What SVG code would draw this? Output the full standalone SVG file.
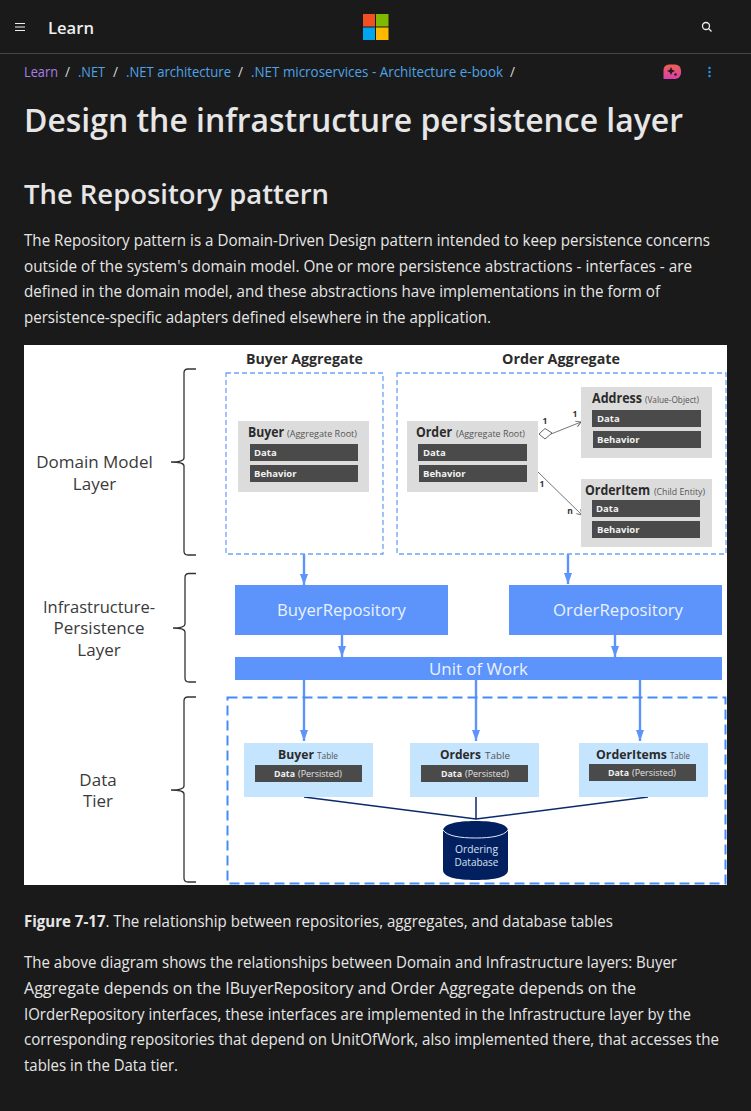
<svg xmlns="http://www.w3.org/2000/svg" width="751" height="1111" viewBox="0 0 751 1111">
<style>
text{font-family:"Open Sans","Noto Sans","Liberation Sans",sans-serif}
.body{font-size:15.6px;fill:#e6e6e6}
.crumb{font-size:13.6px;fill:#4da3e8}
.sl{font-size:13.6px;fill:#d6d6d6}
.card{fill:#dcdcdc}
.bar{fill:#4a4a4a}
.bt{font-size:9.5px;font-weight:700;fill:#f2f2f2}
.name{font-weight:700;fill:#2b2b2b;font-size:14px}
.tname{font-weight:700;fill:#2b2b2b;font-size:12.5px}
.sub{font-size:9.5px;fill:#555}
.tsub{font-size:9.5px;fill:#555}
.pers{font-size:9.5px;fill:#e4e4e4}
.tbl{fill:#c5e4fd}
.layer{font-size:17px;fill:#3a3a3a;text-anchor:middle}
.repo{fill:#5c94fc}
.rt{fill:#eaf2ff;font-size:17px;text-anchor:middle}
.dash{fill:none;stroke:#6ea1fb;stroke-width:1.3;stroke-dasharray:5 3}
.dash2{fill:none;stroke:#448bfa;stroke-width:2;stroke-dasharray:10 5}
.brace{fill:none;stroke:#333;stroke-width:1.3}
.flow{stroke:#5c94fc;stroke-width:2.4;fill:none;marker-end:url(#a)}
.thin{stroke:#666;stroke-width:.9;fill:none;marker-end:url(#o)}
.db{stroke:#0b2a6b;stroke-width:1.5;fill:none}
.card-num{font-size:8.5px;font-weight:700;fill:#333}
</style>
<defs>
<marker id="a" markerUnits="userSpaceOnUse" markerWidth="12" markerHeight="12" refX="11" refY="6" orient="auto"><path d="M0 2L11 6L0 10Z" fill="#5c94fc"/></marker>
<marker id="o" markerUnits="userSpaceOnUse" markerWidth="7" markerHeight="8" refX="6" refY="4" orient="auto"><path d="M1 1L6 4L1 7" fill="none" stroke="#666" stroke-width=".9"/></marker>
<linearGradient id="ic" x1="0" y1="0" x2="0" y2="1"><stop offset="0" stop-color="#f0604f"/><stop offset="1" stop-color="#d83fb0"/></linearGradient>
</defs>
<rect width="751" height="1111" fill="#1a1a1a"/>
<g id="page-header">
<path d="M15 23.5H25M15 27H25M15 30.5H25" stroke="#eee" stroke-width="1.2"/>
<text x="48" y="33.500" font-size="16.500" font-weight="600" fill="#eee" textLength="46" lengthAdjust="spacingAndGlyphs">Learn</text>
<rect x="363" y="14" width="12" height="12.500" fill="#f25022"/><rect x="376" y="14" width="12.500" height="12.500" fill="#7fba00"/><rect x="363" y="27.500" width="12" height="12.500" fill="#00a4ef"/><rect x="376" y="27.500" width="12.500" height="12.500" fill="#ffb900"/>
<circle cx="706" cy="26" r="3.500" fill="none" stroke="#eee" stroke-width="1.300"/><path d="M708.500 28.500L711.500 31.500" stroke="#eee" stroke-width="1.300"/>
<rect y="53" width="751" height="1" fill="#444"/>
</g>
<g id="breadcrumb">
<text x="24" y="77" class="crumb" style="fill:#a77ee8" textLength="34" lengthAdjust="spacingAndGlyphs">Learn</text>
<text x="65" y="77" class="sl">/</text>
<text x="78" y="77" class="crumb" textLength="27" lengthAdjust="spacingAndGlyphs">.NET</text>
<text x="113" y="77" class="sl">/</text>
<text x="126" y="77" class="crumb" textLength="105" lengthAdjust="spacingAndGlyphs">.NET architecture</text>
<text x="238" y="77" class="sl">/</text>
<text x="251" y="77" class="crumb" textLength="252" lengthAdjust="spacingAndGlyphs">.NET microservices - Architecture e-book</text>
<text x="510" y="77" class="sl">/</text>
<path d="M669 64.500H675A6 6 0 0 1 681 70.500V73A6 6 0 0 1 675 79H663.500V70A5.500 5.500 0 0 1 669 64.500Z" fill="url(#ic)"/><path d="M671 67L672.300 69.700L675 71L672.300 72.300L671 75L669.700 72.300L667 71L669.700 69.700Z" fill="#2a1a22"/><circle cx="675.500" cy="74.500" r="1.300" fill="#2a1a22"/>
<circle cx="709.500" cy="68" r="1.200" fill="#2899f5"/><circle cx="709.500" cy="72" r="1.200" fill="#2899f5"/><circle cx="709.500" cy="76" r="1.200" fill="#2899f5"/>
</g>
<text id="title" x="24" y="132" font-size="32.500" font-weight="600" fill="#e6e6e6" textLength="659" lengthAdjust="spacingAndGlyphs">Design the infrastructure persistence layer</text>
<text id="h2" x="24" y="204" font-size="27.500" font-weight="600" fill="#e6e6e6" textLength="305" lengthAdjust="spacingAndGlyphs">The Repository pattern</text>
<g id="intro">
<text class="body" x="24" y="246" textLength="686" lengthAdjust="spacingAndGlyphs">The Repository pattern is a Domain-Driven Design pattern intended to keep persistence concerns</text>
<text class="body" x="24" y="272" textLength="668" lengthAdjust="spacingAndGlyphs">outside of the system's domain model. One or more persistence abstractions - interfaces - are</text>
<text class="body" x="24" y="297" textLength="636" lengthAdjust="spacingAndGlyphs">defined in the domain model, and these abstractions have implementations in the form of</text>
<text class="body" x="24" y="323" textLength="467" lengthAdjust="spacingAndGlyphs">persistence-specific adapters defined elsewhere in the application.</text>
</g>
<rect id="figure-bg" x="24" y="345" width="703" height="540" fill="#fff"/>
<g id="layer-labels">
<text class="layer" x="94.500" y="468">Domain Model</text><text class="layer" x="94.500" y="490">Layer</text>
<text class="layer" x="99" y="613" textLength="112" lengthAdjust="spacingAndGlyphs">Infrastructure-</text><text class="layer" x="99" y="634">Persistence</text><text class="layer" x="99" y="656">Layer</text>
<text class="layer" x="98" y="786">Data</text><text class="layer" x="98" y="807">Tier</text>
</g>
<g id="braces">
<path class="brace" d="M196 369H188Q184 369 184 373V458Q184 462 171 462Q184 462 184 466V551Q184 555 188 555H196"/>
<path class="brace" d="M196 573.500H189Q185 573.500 185 577.500V624Q185 628 173 628Q185 628 185 632V678Q185 682 189 682H196"/>
<path class="brace" d="M196 697H188Q184 697 184 701V786Q184 790 171 790Q184 790 184 794V878Q184 882 188 882H196"/>
</g>
<g id="connectors">
<path class="flow" d="M304 554V585"/><path class="flow" d="M568 554V584"/>
<path class="flow" d="M342 635V657"/><path class="flow" d="M615 635V657"/>
<path class="flow" d="M304 680V741"/><path class="flow" d="M476 680V741"/><path class="flow" d="M640 680V741"/>
<path class="thin" d="M551 434L581 422"/><path class="thin" d="M538 472L582 515"/>
<path d="M539 434L545 428.500L552 433L545 439Z" fill="#fff" stroke="#555" stroke-width=".9"/>
<path class="db" d="M304 797L476 819L648 797M476 797V819"/>
</g>
<g id="aggregate-labels">
<text x="246" y="364" font-size="14" font-weight="700" fill="#2b2b2b" textLength="117" lengthAdjust="spacingAndGlyphs">Buyer Aggregate</text>
<text x="502" y="364" font-size="14" font-weight="700" fill="#2b2b2b" textLength="118" lengthAdjust="spacingAndGlyphs">Order Aggregate</text>
<text class="card-num" x="545" y="424" text-anchor="middle">1</text>
<text class="card-num" x="575" y="417" text-anchor="middle">1</text>
<text class="card-num" x="542" y="487" text-anchor="middle">1</text>
<text class="card-num" x="570" y="514" text-anchor="middle">n</text>
</g>
<g id="buyer-aggregate"><rect class="dash" x="226" y="373" width="157" height="181"/></g>
<g id="order-aggregate"><rect class="dash" x="397" y="373" width="329" height="181"/></g>
<g id="buyer">
<rect class="card" x="238" y="421" width="131" height="71"/>
<text x="248" y="437" class="name" textLength="36" lengthAdjust="spacingAndGlyphs">Buyer</text><text x="287" y="437" class="sub" textLength="70" lengthAdjust="spacingAndGlyphs">(Aggregate Root)</text>
<rect class="bar" x="250" y="444" width="108" height="17"/><text class="bt" x="254" y="456">Data</text>
<rect class="bar" x="250" y="465" width="108" height="17"/><text class="bt" x="254" y="477">Behavior</text>
</g>
<g id="order">
<rect class="card" x="407" y="421" width="131" height="71"/>
<text x="416" y="437" class="name" textLength="36" lengthAdjust="spacingAndGlyphs">Order</text><text x="456" y="437" class="sub" textLength="69" lengthAdjust="spacingAndGlyphs">(Aggregate Root)</text>
<rect class="bar" x="418" y="444" width="109" height="17"/><text class="bt" x="423" y="456">Data</text>
<rect class="bar" x="419" y="465" width="108" height="17"/><text class="bt" x="423" y="477">Behavior</text>
</g>
<g id="address">
<rect class="card" x="581" y="387" width="131" height="71"/>
<text x="592" y="403" class="name" textLength="50" lengthAdjust="spacingAndGlyphs">Address</text><text x="645" y="403" class="sub" textLength="54" lengthAdjust="spacingAndGlyphs">(Value-Object)</text>
<rect class="bar" x="592" y="410" width="109" height="17"/><text class="bt" x="597" y="422">Data</text>
<rect class="bar" x="593" y="431" width="108" height="17"/><text class="bt" x="597" y="443">Behavior</text>
</g>
<g id="orderitem">
<rect class="card" x="581" y="479" width="131" height="68"/>
<text x="585" y="495" class="name" textLength="65" lengthAdjust="spacingAndGlyphs">OrderItem</text><text x="654" y="495" class="sub" textLength="51" lengthAdjust="spacingAndGlyphs">(Child Entity)</text>
<rect class="bar" x="592" y="500" width="108" height="17"/><text class="bt" x="596" y="512">Data</text>
<rect class="bar" x="592" y="521" width="108" height="17"/><text class="bt" x="597" y="533">Behavior</text>
</g>
<g id="buyer-repository"><rect class="repo" x="235" y="585" width="213" height="50"/><text class="rt" x="341.500" y="616" textLength="129" lengthAdjust="spacingAndGlyphs">BuyerRepository</text></g>
<g id="order-repository"><rect class="repo" x="509" y="585" width="213" height="50"/><text class="rt" x="618" y="616" textLength="130" lengthAdjust="spacingAndGlyphs">OrderRepository</text></g>
<g id="unit-of-work"><rect class="repo" x="235" y="657" width="487" height="23"/><text class="rt" x="478.500" y="675" textLength="99" lengthAdjust="spacingAndGlyphs">Unit of Work</text></g>
<g id="data-tier"><rect class="dash2" x="227.500" y="697.500" width="498" height="186"/></g>
<g id="buyer-table"><rect class="tbl" x="244" y="743" width="129" height="54"/>
<text x="278" y="759" class="tname" textLength="36" lengthAdjust="spacingAndGlyphs">Buyer</text><text x="317" y="759" class="tsub" textLength="21" lengthAdjust="spacingAndGlyphs">Table</text>
<rect class="bar" x="255" y="765" width="107" height="17"/><text class="bt" x="274" y="777" textLength="21" lengthAdjust="spacingAndGlyphs">Data</text><text class="pers" x="298" y="777" textLength="44" lengthAdjust="spacingAndGlyphs">(Persisted)</text></g>
<g id="orders-table"><rect class="tbl" x="410" y="743" width="129" height="54"/>
<text x="440" y="759" class="tname" textLength="41" lengthAdjust="spacingAndGlyphs">Orders</text><text x="485" y="759" class="tsub" textLength="25" lengthAdjust="spacingAndGlyphs">Table</text>
<rect class="bar" x="421" y="765" width="107" height="17"/><text class="bt" x="441" y="777" textLength="21" lengthAdjust="spacingAndGlyphs">Data</text><text class="pers" x="465" y="777" textLength="44" lengthAdjust="spacingAndGlyphs">(Persisted)</text></g>
<g id="orderitems-table"><rect class="tbl" x="579" y="743" width="129" height="54"/>
<text x="596" y="759" class="tname" textLength="71" lengthAdjust="spacingAndGlyphs">OrderItems</text><text x="670" y="759" class="tsub" textLength="20" lengthAdjust="spacingAndGlyphs">Table</text>
<rect class="bar" x="589" y="764" width="107" height="17"/><text class="bt" x="608" y="776" textLength="21" lengthAdjust="spacingAndGlyphs">Data</text><text class="pers" x="632" y="776" textLength="44" lengthAdjust="spacingAndGlyphs">(Persisted)</text></g>
<g id="ordering-database">
<path d="M443 831C443 824 456 821 475.500 821C495 821 508 824 508 831V870C508 877 495 880 475.500 880C456 880 443 877 443 870Z" fill="#02205f"/>
<path d="M443 830C447 836 460 838 475.500 838C491 838 504 836 508 830" fill="none" stroke="#dfe6f5" stroke-width="1"/>
<text x="476.500" y="853" text-anchor="middle" font-size="10.500" fill="#d7e0f2" textLength="43" lengthAdjust="spacingAndGlyphs">Ordering</text>
<text x="476.500" y="866" text-anchor="middle" font-size="10.500" fill="#d7e0f2" textLength="44" lengthAdjust="spacingAndGlyphs">Database</text>
</g>
<g id="caption">
<text class="body" x="24" y="927" textLength="589" lengthAdjust="spacingAndGlyphs"><tspan font-weight="700">Figure 7-17</tspan>. The relationship between repositories, aggregates, and database tables</text>
</g>
<g id="outro">
<text class="body" x="24" y="968" textLength="653" lengthAdjust="spacingAndGlyphs">The above diagram shows the relationships between Domain and Infrastructure layers: Buyer</text>
<text class="body" x="24" y="994" textLength="612" lengthAdjust="spacingAndGlyphs">Aggregate depends on the IBuyerRepository and Order Aggregate depends on the</text>
<text class="body" x="24" y="1020" textLength="667" lengthAdjust="spacingAndGlyphs">IOrderRepository interfaces, these interfaces are implemented in the Infrastructure layer by the</text>
<text class="body" x="24" y="1045" textLength="695" lengthAdjust="spacingAndGlyphs">corresponding repositories that depend on UnitOfWork, also implemented there, that accesses the</text>
<text class="body" x="24" y="1071" textLength="154" lengthAdjust="spacingAndGlyphs">tables in the Data tier.</text>
</g>
</svg>
